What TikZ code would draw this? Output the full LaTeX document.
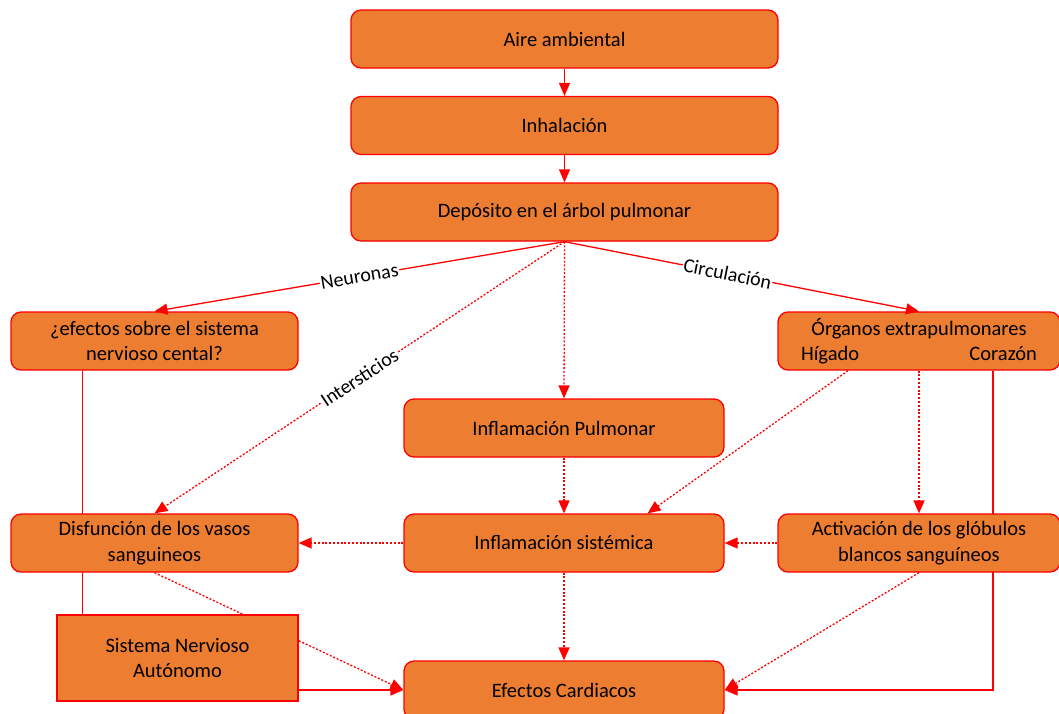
\documentclass[tikz,border=0pt]{standalone}
\usepackage{fontspec}
\setmainfont{Carlito}
\usetikzlibrary{arrows.meta,calc}
\pgfdeclarelayer{background}
\pgfsetlayers{background,main}

\definecolor{boxfill}{HTML}{ED7D31}
\definecolor{linered}{HTML}{FF0000}

\begin{document}
\begin{tikzpicture}[x=1pt,y=-1pt,
  box/.style={draw=linered, fill=boxfill, line width=1.3pt, rounded corners=10pt,
    minimum height=58pt, align=center, inner sep=0pt,
    font=\fontsize{20.5}{25.5}\selectfont},
  sqbox/.style={box, rounded corners=0pt},
  plain/.style={draw=linered, line width=1.3pt},
  link/.style={plain, -{Triangle[length=13pt,width=11pt]}},
  dotlink/.style={link, dash pattern=on 2pt off 1.8pt},
  lbl/.style={fill=white, inner sep=1pt, sloped, font=\fontsize{20}{22}\selectfont}
]
\useasboundingbox (0,0) rectangle (1059,713);
\clip (0,0) rectangle (1059,713);

% main chain
\node[box, minimum width=427pt] (aire) at (564.5,39) {Aire ambiental};
\node[box, minimum width=427pt] (inh)  at (564.5,125.5) {Inhalación};
\node[box, minimum width=427pt] (dep)  at (564.5,212) {Depósito en el árbol pulmonar};

% second row
\node[box, minimum width=287pt] (snc) at (154.5,341) {¿efectos sobre el sistema\\nervioso cental?};
\node[box, minimum width=282pt] (org) at (919,341)
  {Órganos extrapulmonares\\\makebox[236pt]{Hígado\hfill Corazón}};

\node[box, minimum width=320pt] (infp) at (564,428) {Inflamación Pulmonar};

% third row
\node[box, minimum width=287pt] (disf) at (154.5,543) {Disfunción de los vasos\\sanguineos};
\node[box, minimum width=320pt] (infs) at (564,543) {Inflamación sistémica};
\node[box, minimum width=282pt] (act)  at (919,543) {Activación de los glóbulos\\blancos sanguíneos};

% bottom row
\node[sqbox, minimum width=241pt, minimum height=86pt] (sna) at (177.5,658) {Sistema Nervioso\\Autónomo};
\node[box, minimum width=320pt] (card) at (564,690) {Efectos Cardiacos};

% connectors that pass behind the boxes
\begin{pgfonlayer}{background}
  \draw[plain] ([xshift=72pt]snc.south west) -- ([xshift=72pt]snc.south west |- sna.north);
  \draw[link] ([xshift=74pt]org.south) |- (card.east);
  \draw[dotlink] (disf.south) -- (card.west);
\end{pgfonlayer}

% main chain arrows
\draw[link] (aire) -- (inh);
\draw[link] (inh) -- (dep);

% branches from the lung deposit
\draw[link] (dep.south) -- node[lbl] {Neuronas} (snc.north);
\draw[link] (dep.south) -- node[lbl, pos=0.46] {Circulación} (org.north);
\draw[dotlink] (dep.south) -- node[lbl] {Intersticios} (disf.north);
\draw[dotlink] (dep.south) -- (infp.north);

% inflammation paths
\draw[dotlink] (infp) -- (infs);
\draw[dotlink] ([xshift=-71pt]org.south) -- ($(infs.north west)!0.76!(infs.north east)$);
\draw[dotlink] (org.south) -- (act.north);
\draw[dotlink] (act.west) -- (infs.east);
\draw[dotlink] (infs.west) -- (disf.east);
\draw[dotlink] (infs.south) -- (card.north);
\draw[dotlink] (act.south) -- (card.east);
\draw[link] (sna.east |- card.west) -- (card.west);
\end{tikzpicture}
\end{document}
